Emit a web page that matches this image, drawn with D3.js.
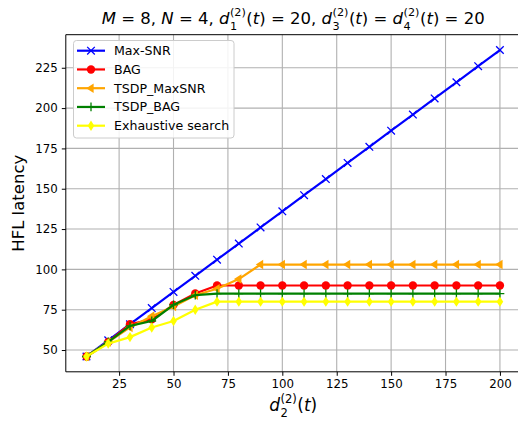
<!DOCTYPE html>
<html>
<head>
<meta charset="utf-8">
<script src="https://cdn.jsdelivr.net/npm/d3@7"></script>
<style>
  html, body { margin: 0; padding: 0; background: #fff; }
  svg { display: block; font-family: "DejaVu Sans", sans-serif; }
</style>
</head>
<body>
<svg id="chart" width="518" height="422"></svg>
<script>
// ---------- data ----------
const xValues = [10, 20, 30, 40, 50, 60, 70, 80, 90, 100, 110, 120, 130, 140, 150, 160, 170, 180, 190, 200];
const maxSNR      = [46, 56, 66, 76, 86, 96, 106, 116, 126, 136, 146, 156, 166, 176, 186, 196, 206, 216, 226, 236];
const bag         = [46, 55, 66, 69, 78, 85, 90, 90, 90, 90, 90, 90, 90, 90, 90, 90, 90, 90, 90, 90];
const tsdpMaxSNR  = [46, 55, 64, 71, 77, 84, 88, 94, 103, 103, 103, 103, 103, 103, 103, 103, 103, 103, 103, 103];
const tsdpBAG     = [46, 55, 65, 68, 78, 84, 85, 85, 85, 85, 85, 85, 85, 85, 85, 85, 85, 85, 85, 85];
const exhaustive  = [46, 54, 58, 64, 68, 75, 80, 80, 80, 80, 80, 80, 80, 80, 80, 80, 80, 80, 80, 80];
const seriesNames = ["Max-SNR", "BAG", "TSDP_MaxSNR", "TSDP_BAG", "Exhaustive search"];
const xTicks = [25, 50, 75, 100, 125, 150, 175, 200];
const yTicks = [50, 75, 100, 125, 150, 175, 200, 225];

const seriesStyle = [
  { color: "#0000ff", marker: "x" },
  { color: "#ff0000", marker: "o" },
  { color: "#ffa500", marker: "<" },
  { color: "#008000", marker: "+" },
  { color: "#ffff00", marker: "d" }
];
const seriesValues = [maxSNR, bag, tsdpMaxSNR, tsdpBAG, exhaustive];

// ---------- layout ----------
const svg = d3.select("#chart");
const L = 65.8, R = 520.6, T = 34.7, B = 371.8;

const x = d3.scaleLinear().domain([0.5, 209.5]).range([L, R]);
const y = d3.scaleLinear().domain([36.5, 245.5]).range([B, T]);

// grid
const grid = svg.append("g");
grid.selectAll("line.gx").data(xTicks).join("line")
  .attr("x1", d => x(d)).attr("x2", d => x(d)).attr("y1", T).attr("y2", B)
  .attr("stroke", "#b0b0b0").attr("stroke-width", 1.1);
grid.selectAll("line.gy").data(yTicks).join("line")
  .attr("x1", L).attr("x2", R).attr("y1", d => y(d)).attr("y2", d => y(d))
  .attr("stroke", "#b0b0b0").attr("stroke-width", 1.1);

// axes
const xAxis = svg.append("g").attr("transform", `translate(0,${B})`)
  .call(d3.axisBottom(x).tickValues(xTicks).tickSize(4).tickPadding(4).tickFormat(d3.format("d")));
const yAxis = svg.append("g").attr("transform", `translate(${L},0)`)
  .call(d3.axisLeft(y).tickValues(yTicks).tickSize(4).tickPadding(4).tickFormat(d3.format("d")));
[xAxis, yAxis].forEach(a => {
  a.select(".domain").remove();
  a.selectAll("text").attr("font-family", "DejaVu Sans").attr("font-size", 11.8).attr("fill", "#000");
  a.selectAll("line").attr("stroke", "#000").attr("stroke-width", 1);
});
// spines
svg.append("line").attr("x1", L).attr("x2", R).attr("y1", B).attr("y2", B).attr("stroke", "#000").attr("stroke-width", 1);
svg.append("line").attr("x1", L).attr("x2", R).attr("y1", T).attr("y2", T).attr("stroke", "#000").attr("stroke-width", 1);
svg.append("line").attr("x1", L).attr("x2", L).attr("y1", T).attr("y2", B).attr("stroke", "#000").attr("stroke-width", 1);
svg.append("line").attr("x1", R).attr("x2", R).attr("y1", T).attr("y2", B).attr("stroke", "#000").attr("stroke-width", 1);

// markers
function drawMarker(g, type, color, cx, cy) {
  const s = 3.8;
  if (type === "x") {
    g.append("path").attr("d", `M${cx-s},${cy-s}L${cx+s},${cy+s}M${cx-s},${cy+s}L${cx+s},${cy-s}`)
      .attr("stroke", color).attr("stroke-width", 1.3).attr("fill", "none");
  } else if (type === "+") {
    const p = 4.4;
    g.append("path").attr("d", `M${cx-p},${cy}L${cx+p},${cy}M${cx},${cy-p}L${cx},${cy+p}`)
      .attr("stroke", color).attr("stroke-width", 1.3).attr("fill", "none");
  } else if (type === "o") {
    g.append("circle").attr("cx", cx).attr("cy", cy).attr("r", 4.2).attr("fill", color);
  } else if (type === "<") {
    const r = 4.8;
    g.append("path").attr("d", `M${cx-r},${cy}L${cx+r*0.55},${cy-r}L${cx+r*0.55},${cy+r}Z`).attr("fill", color);
  } else if (type === "d") {
    g.append("path").attr("d", `M${cx},${cy-5.2}L${cx+3.3},${cy}L${cx},${cy+5.2}L${cx-3.3},${cy}Z`).attr("fill", color);
  }
}

const line = d3.line().x(d => x(d[0])).y(d => y(d[1]));
const plot = svg.append("g");
seriesValues.forEach((vals, i) => {
  const pts = xValues.map((xv, j) => [xv, vals[j]]);
  const g = plot.append("g");
  g.append("path").datum(pts).attr("d", line)
    .attr("fill", "none").attr("stroke", seriesStyle[i].color).attr("stroke-width", 2.2)
    .attr("stroke-linejoin", "round");
  pts.forEach(p => drawMarker(g, seriesStyle[i].marker, seriesStyle[i].color, x(p[0]), y(p[1])));
});

// legend
const lg = svg.append("g");
lg.append("rect").attr("x", 73.5).attr("y", 40.5).attr("width", 160.5).attr("height", 97.5)
  .attr("rx", 3).attr("fill", "rgba(255,255,255,0.85)").attr("stroke", "#cccccc").attr("stroke-width", 1);
seriesNames.forEach((name, i) => {
  const yy = 50.7 + i * 18.75;
  lg.append("line").attr("x1", 77).attr("x2", 105).attr("y1", yy).attr("y2", yy)
    .attr("stroke", seriesStyle[i].color).attr("stroke-width", 2.2);
  drawMarker(lg, seriesStyle[i].marker, seriesStyle[i].color, 91, yy);
  lg.append("text").attr("x", 114).attr("y", yy).attr("dy", "0.36em")
    .attr("font-size", 12.6).attr("fill", "#000").text(name);
});

// math text helper: one <text> element, tspans positioned explicitly
function mathText(parent, pieces, cx, cyBase, size) {
  const g = parent.append("g");
  const txt = g.append("text").attr("fill", "#000").attr("font-size", size).style("white-space", "pre");
  let cur = 0;
  pieces.forEach(p => {
    if (p.t !== undefined) {
      const t = txt.append("tspan").attr("x", cur).attr("y", 0)
        .attr("font-style", p.it ? "italic" : "normal").text(p.t);
      cur += t.node().getComputedTextLength();
    } else {
      const ss = size * 0.68;
      let w = 0;
      if (p.sup) {
        const t = txt.append("tspan").attr("x", cur + 0.5).attr("y", -size * 0.48)
          .attr("font-size", ss).text(p.sup);
        w = Math.max(w, t.node().getComputedTextLength());
      }
      if (p.sub) {
        const t = txt.append("tspan").attr("x", cur + 0.5).attr("y", size * 0.34)
          .attr("font-size", ss).text(p.sub);
        w = Math.max(w, t.node().getComputedTextLength());
      }
      cur += w + 1;
    }
  });
  g.attr("transform", `translate(${cx - cur / 2},${cyBase})`);
  return g;
}

// title
mathText(svg, [
  { t: "M", it: true }, { t: " = 8, " }, { t: "N", it: true }, { t: " = 4, " },
  { t: "d", it: true }, { sup: "(2)", sub: "1" }, { t: "(" }, { t: "t", it: true }, { t: ") = 20, " },
  { t: "d", it: true }, { sup: "(2)", sub: "3" }, { t: "(" }, { t: "t", it: true }, { t: ") = " },
  { t: "d", it: true }, { sup: "(2)", sub: "4" }, { t: "(" }, { t: "t", it: true }, { t: ") = 20" }
], (L + R) / 2, 24, 16.5);

// x label
mathText(svg, [
  { t: "d", it: true }, { sup: "(2)", sub: "2" }, { t: "(" }, { t: "t", it: true }, { t: ")" }
], (L + R) / 2, 411, 17);

// y label
svg.append("text").attr("transform", `translate(24,${(T + B) / 2}) rotate(-90)`)
  .attr("text-anchor", "middle").attr("font-size", 16.5).attr("fill", "#000").text("HFL latency");
</script>
</body>
</html>
